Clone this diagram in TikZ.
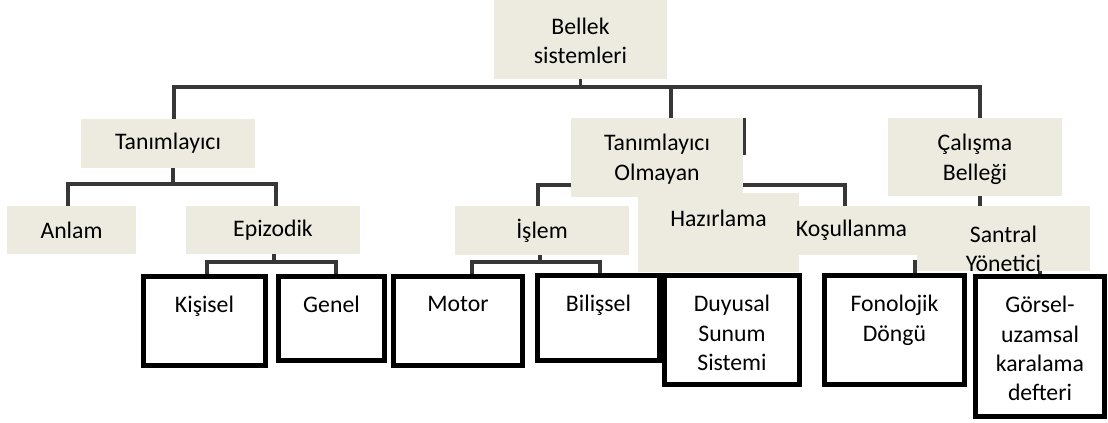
\documentclass[tikz,border=0pt]{standalone}
\usepackage{fontspec}
\setmainfont{Carlito}
\usetikzlibrary{backgrounds}

\definecolor{bej}{RGB}{237,235,224}
\definecolor{hat}{RGB}{55,55,55}

\tikzset{
  kutu/.style={fill=bej, inner sep=0pt, align=center},
  kalin/.style={draw=black, fill=white, line width=3.75pt, inner sep=0pt},
  ustyazi/.style={anchor=north, align=center, inner sep=0pt, yshift=-#1},
  baglanti/.style={draw=hat, line width=2.4pt},
}

\begin{document}
\fontsize{17.8pt}{22pt}\selectfont
\begin{tikzpicture}[x=0.75pt,y=0.75pt,yscale=-1,xscale=1]
\useasboundingbox (0,0) rectangle (1108,423);

% Text Node
\draw (580.5,39.5) node (bel) [kutu, minimum width=129.75pt, minimum height=59.25pt,
  label={[ustyazi=13.5pt]north:{Bellek\\sistemleri}}] {};
% Text Node
\draw (168,143.5) node (tan) [kutu, minimum width=130.5pt, minimum height=36.75pt] {Tanımlayıcı};
% Text Node
\draw (657,157.5) node (olm) [kutu, minimum width=129pt, minimum height=59.25pt,
  label={[ustyazi=12.3pt]north:{Tanımlayıcı\\Olmayan}}] {};
% Text Node
\draw (975,157) node (cal) [kutu, minimum width=130.5pt, minimum height=58.5pt,
  label={[ustyazi=12.3pt]north:{Çalışma\\Belleği}}] {};
% Text Node
\draw (71.5,230) node (anl) [kutu, minimum width=96.75pt, minimum height=36pt] {Anlam};
% Text Node
\draw (273,230) node (epi) [kutu, minimum width=130.5pt, minimum height=36pt] {Epizodik};
% Text Node
\draw (542,230.5) node (isl) [kutu, minimum width=130.5pt, minimum height=36.75pt] {İşlem};
% Text Node
\draw (718.5,232.5) node (haz) [kutu, minimum width=120.75pt, minimum height=59.25pt,
  label={[ustyazi=12.5pt]north:Hazırlama}] {};
% Text Node
\draw (851.5,230.5) node (kos) [kutu, minimum width=128.25pt, minimum height=36.75pt] {Koşullanma};
% Text Node
\draw (1003.5,238.5) node (san) [kutu, minimum width=129.75pt, minimum height=48.75pt,
  label={[ustyazi=15pt]north:{Santral\\Yönetici}}] {};

% Bold boxes
\draw (204.5,321) node (kis) [kalin, minimum width=91.5pt, minimum height=66.75pt,
  label={[ustyazi=16.5pt]north:Kişisel}] {};
\draw (331.5,318.5) node (gen) [kalin, minimum width=79.5pt, minimum height=63pt,
  label={[ustyazi=16.5pt]north:Genel}] {};
\draw (458,321) node (mot) [kalin, minimum width=96.75pt, minimum height=66.75pt,
  label={[ustyazi=16.5pt]north:Motor}] {};
\draw (598.5,318) node (bil) [kalin, minimum width=91.5pt, minimum height=63.75pt,
  label={[ustyazi=16.5pt]north:Bilişsel}] {};
\draw (732,330) node (duy) [kalin, minimum width=101.25pt, minimum height=81.75pt,
  label={[ustyazi=16.5pt]north:{Duyusal\\Sunum\\Sistemi}}] {};
\draw (894.5,330) node (fon) [kalin, minimum width=105pt, minimum height=81.75pt,
  label={[ustyazi=16.5pt]north:{Fonolojik\\Döngü}}] {};
\draw (1040,346.5) node (gor) [kalin, minimum width=96.75pt, minimum height=105pt,
  label={[ustyazi=16.5pt]north:{Görsel-\\uzamsal\\karalama\\defteri}}] {};

\coordinate (busA) at (580.5,87);
\coordinate (busB) at (173,184);
\coordinate (busC) at (274,262);
\coordinate (busD) at (540,262);
\coordinate (busE) at (657,185);
\coordinate (busF) at (980,262);

\begin{scope}[on background layer]
%Straight Lines
\draw[baglanti] (bel.south -| busA) -- (busA);
\draw[baglanti] ([xshift=4.5pt]tan.north) |- (busA) -| ([xshift=3.75pt]cal.north);
\draw[baglanti] ([xshift=10.5pt]olm.north) |- (busA);
%Straight Lines
\draw[baglanti] (tan.south -| busB) -- (busB);
\draw[baglanti] ([xshift=-2.6pt]anl.north) |- (busB) -| ([xshift=2.25pt]epi.north);
%Straight Lines
\draw[baglanti] (epi.south -| busC) -- (busC);
\draw[baglanti] ([xshift=1.9pt]kis.north) |- (busC) -| ([xshift=3.4pt]gen.north);
%Straight Lines
\draw[baglanti] (isl.south -| busD) -- (busD);
\draw[baglanti] ([xshift=10.5pt]mot.north) |- (busD) -| ([xshift=1.1pt]bil.north);
%Straight Lines
\draw[baglanti] ([xshift=-3pt]isl.north) |- (busE) -| ([xshift=-4.9pt]kos.north);
\draw[baglanti] (haz.north) |- (busE);
\draw[baglanti] ([xshift=1.2pt]olm.north east) -- ++(0,37);
%Straight Lines
\draw[baglanti] (cal.south -| busF) -- (busF);
\draw[baglanti] ([xshift=15.4pt]fon.north) |- (busF) -| (gor.north);
\end{scope}

\end{tikzpicture}
\end{document}
